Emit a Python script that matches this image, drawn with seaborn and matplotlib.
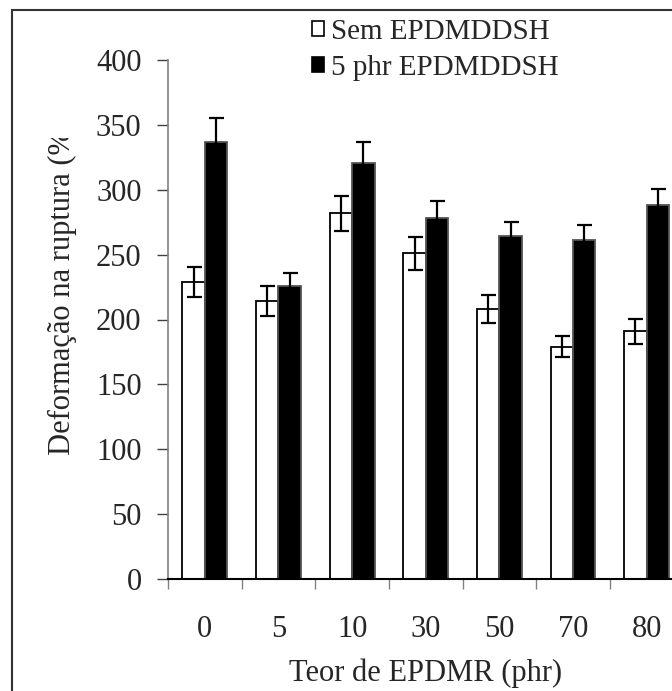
import numpy as np
import pandas as pd
import matplotlib
matplotlib.use("Agg")
import matplotlib.pyplot as plt
import seaborn as sns
from matplotlib.patches import Rectangle, Patch
from matplotlib.container import BarContainer
from matplotlib.transforms import Bbox, TransformedBbox

# ---- data ----
categories = ["0", "5", "10", "30", "50", "70", "80"]
series_names = ["Sem EPDMDDSH", "5 phr EPDMDDSH"]
sem_values = [229, 214, 282, 251, 208, 179, 191]
sem_errors = [11.5, 11.5, 13.5, 12.5, 11, 8, 9.5]
com_values = [337, 226, 321, 278, 264, 261, 288]
com_errors = [18, 9.5, 16, 13.5, 11.5, 12, 12.5]
yticks = [0, 50, 100, 150, 200, 250, 300, 350, 400]

df = pd.DataFrame({
    "teor": categories * 2,
    "valor": sem_values + com_values,
    "serie": [series_names[0]] * len(categories) + [series_names[1]] * len(categories),
})

sns.set_style("ticks")
plt.rcParams["font.family"] = ["Liberation Serif", "DejaVu Serif"]
plt.rcParams["font.size"] = 22

W, H = 672, 691
fig = plt.figure(figsize=(W / 100, H / 100), dpi=100)
ax = fig.add_axes([168 / W, 112 / H, 515.5 / W, 519 / H])

sns.barplot(data=df, x="teor", y="valor", hue="serie", order=categories,
            hue_order=series_names, palette=["white", "black"], width=0.61,
            errorbar=None, legend=False, ax=ax, saturation=1)

edgecols = ["black", "#555555"]
errs = [sem_errors, com_errors]
vals = [sem_values, com_values]
bar_conts = [c for c in ax.containers if isinstance(c, BarContainer)]
for i, cont in enumerate(bar_conts):
    xs = []
    for bar in cont.patches:
        bar.set_edgecolor(edgecols[i])
        bar.set_linewidth(1.3)
        xs.append(bar.get_x() + bar.get_width() / 2)
    ax.errorbar(xs, vals[i], yerr=errs[i], fmt="none", ecolor="black",
                elinewidth=1.6, capsize=5.4, capthick=1.6, zorder=5)

ax.set_ylim(0, 400)
ax.set_yticks(yticks)
ax.set_xlim(-0.5, 6.5)
ax.set_xlabel("Teor de EPDMR (phr)", fontsize=22, labelpad=10)
ax.set_ylabel("Deformação na ruptura (%)", fontsize=22)

for s in ["top", "right"]:
    ax.spines[s].set_visible(False)
ax.spines["left"].set_color("#808080")
ax.spines["left"].set_linewidth(1.2)
ax.spines["bottom"].set_color("black")
ax.spines["bottom"].set_linewidth(1.5)

ax.tick_params(axis="y", direction="out", length=8, width=1, color="#404040",
               pad=11, labelsize=22)
ax.tick_params(axis="x", which="major", length=0, pad=26, labelsize=22)
ax.set_xticks(np.arange(-0.5, 6.0, 1.0), minor=True)
ax.tick_params(axis="x", which="minor", direction="out", length=7, width=1,
               color="#808080")

# y label position + clipping (label is cut in the reference)
lab = ax.yaxis.label
lab.set_rotation_mode("anchor")
lab.set_ha("left")
lab.set_va("center")
ax.yaxis.set_label_coords((62 - 168) / 515.5, (691 - 455 - 112) / 519)
lab.set_clip_on(True)
lab.set_clip_box(TransformedBbox(Bbox([[0, 0], [1, 1 - 138 / H]]), fig.transFigure))

# legend
handles = [Patch(facecolor="white", edgecolor="black", linewidth=1.2),
           Patch(facecolor="black", edgecolor="black", linewidth=1.2)]
fig.legend(handles, series_names, loc="upper left",
           bbox_to_anchor=(312 / W, 1 - 19 / H), frameon=False, fontsize=21,
           handlelength=0.40, handleheight=0.40, handletextpad=0.25,
           labelspacing=0.33, borderpad=0, borderaxespad=0)

# outer frame
fig.add_artist(Rectangle((12 / W, -0.1), 1.2, 1.1 - 9.5 / H, transform=fig.transFigure,
                         fill=False, edgecolor="#333333", linewidth=1.5))

fig.savefig("out.png", dpi=100)
